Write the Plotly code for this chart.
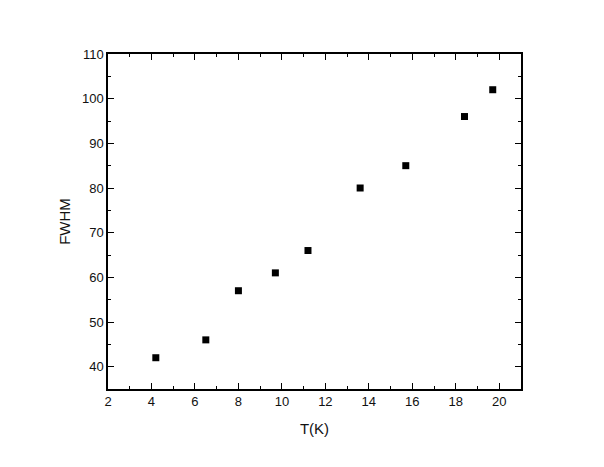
import plotly.graph_objects as go

T = [4.2, 6.5, 8.0, 9.7, 11.2, 13.6, 15.7, 18.4, 19.7]
FWHM = [42, 46, 57, 61, 66, 80, 85, 96, 102]

FONT = "Liberation Sans, Arial"

fig = go.Figure()
fig.add_trace(go.Scatter(x=T, y=FWHM, mode="markers",
                         marker=dict(symbol="square", size=7, color="black"),
                         showlegend=False))

axis_common = dict(showgrid=False, zeroline=False, showline=True, linecolor="black",
                   linewidth=1.5, mirror="allticks", ticks="inside", ticklen=6,
                   tickwidth=1.2, tickcolor="black", automargin=False,
                   tickfont=dict(family=FONT, size=13, color="#111"),
                   minor=dict(ticks="inside", ticklen=3, tickwidth=1.2, tickcolor="black"))

fig.update_xaxes(range=[2, 21], tick0=2, dtick=2, minor_dtick=1,
                 title=dict(text="T(K)", font=dict(family=FONT, size=15, color="#111"), standoff=15),
                 **axis_common)
fig.update_yaxes(range=[35, 110], tick0=40, dtick=10, minor_dtick=5,
                 title=dict(text="FWHM", font=dict(family=FONT, size=15, color="#111"), standoff=8),
                 **axis_common)

fig.update_layout(width=604, height=467, margin=dict(l=100, r=91, t=46, b=86),
                  plot_bgcolor="white", paper_bgcolor="white")

fig.write_html("out.html")
